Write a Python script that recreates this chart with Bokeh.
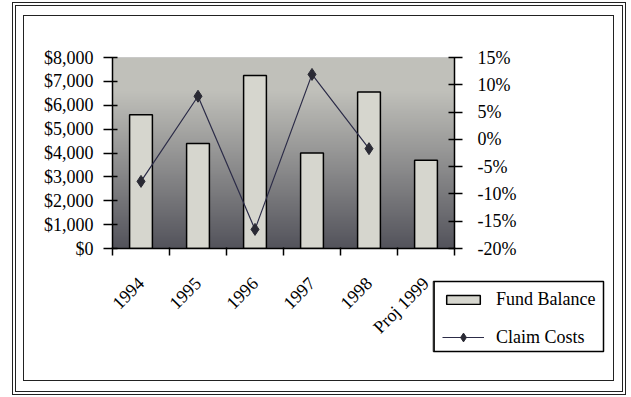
import numpy as np
from bokeh.plotting import figure
from bokeh.layouts import column
from bokeh.models import (Range1d, LinearAxis, FixedTicker, NumeralTickFormatter,
                          PrintfTickFormatter, Legend, LegendItem, InlineStyleSheet)
from bokeh.embed import file_html
from bokeh.resources import INLINE

# --- data -------------------------------------------------------------
years = ["1994", "1995", "1996", "1997", "1998", "Proj 1999"]
fund_balance = [5600, 4400, 7250, 4000, 6550, 3700]          # dollars
claim_costs = [-7.7, 7.9, -16.5, 11.9, -1.7]                  # percent change, 1994-1998
balance_ticks = [0, 1000, 2000, 3000, 4000, 5000, 6000, 7000, 8000]
pct_ticks = [-20, -15, -10, -5, 0, 5, 10, 15]

FONT = "Liberation Serif"
FS = "18px"
BAR_FILL = "#d6d6ce"
LINE_COLOR = "#2c2c48"
MARK_COLOR = "#2a2a34"

xs = list(range(len(years)))
cx = xs[:len(claim_costs)]

p = figure(width=631, height=397, output_backend="svg", toolbar_location=None,
           x_range=Range1d(-0.5, len(years) - 0.5),
           y_range=Range1d(balance_ticks[0], balance_ticks[-1]),
           x_axis_location=None, y_axis_location=None,
           min_border_left=112, min_border_right=177,
           min_border_top=57, min_border_bottom=149)
p.frame_align = False
p.background_fill_color = "white"
p.border_fill_alpha = 0
p.outline_line_color = "#9a9a9a"
p.outline_line_dash = "1 1"
p.xgrid.visible = False
p.ygrid.visible = False
p.extra_y_ranges = {"pct": Range1d(pct_ticks[0], pct_ticks[-1])}

# double outer border and single inner border around the whole chart
p.stylesheets = [InlineStyleSheet(css="""
:host { background: white; }
:host::before {
  content: ""; position: absolute; left: 12px; top: 2px; width: 614px; height: 393px;
  box-sizing: border-box; border: 1.5px solid #222; outline: 1.5px solid #222;
  outline-offset: -4.5px; pointer-events: none; z-index: 5;
}
:host::after {
  content: ""; position: absolute; left: 23px; top: 15px; width: 591px; height: 366px;
  box-sizing: border-box; border: 1.5px solid #222; pointer-events: none; z-index: 5;
}
""")]

# shaded plot background: light band on top, darkening towards the bottom
n = 200
t = np.linspace(0.0, 1.0, n)            # 0 = bottom, 1 = top
light = np.array([192, 192, 186])
dark = np.array([84, 84, 92])
rows = np.zeros((n, 3))
for i, v in enumerate(t):
    k = min(v / 0.82, 1.0)
    rows[i] = dark + (light - dark) * k
img = np.zeros((n, 1), dtype=np.uint32)
view = img.view(dtype=np.uint8).reshape((n, 1, 4))
view[:, 0, 0] = rows[:, 0]
view[:, 0, 1] = rows[:, 1]
view[:, 0, 2] = rows[:, 2]
view[:, 0, 3] = 255
p.image_rgba(image=[img], x=-0.5, y=balance_ticks[0], dw=len(years),
             dh=balance_ticks[-1] - balance_ticks[0], level="image")

# bars: fund balance
p.vbar(x=xs, top=fund_balance, width=0.4, bottom=0,
       fill_color=BAR_FILL, line_color="black", line_width=1.5)

# line: claim costs on the right-hand axis
p.line(cx, claim_costs, y_range_name="pct", line_color=LINE_COLOR, line_width=1.2)
p.scatter(cx, claim_costs, y_range_name="pct", marker="diamond", size=12,
          fill_color=MARK_COLOR, line_color=MARK_COLOR)

# axes
def style(ax):
    ax.major_label_text_font = FONT
    ax.major_label_text_font_size = FS
    ax.major_label_text_color = "black"
    ax.axis_line_color = "black"
    ax.axis_line_width = 1.5
    ax.major_tick_line_color = "black"
    ax.major_tick_line_width = 1.5
    ax.minor_tick_line_color = None

left = LinearAxis(ticker=FixedTicker(ticks=balance_ticks),
                  formatter=NumeralTickFormatter(format="$0,0"))
style(left)
left.major_tick_in = 5
left.major_tick_out = 9
left.major_label_standoff = 10
p.add_layout(left, "left")

right = LinearAxis(y_range_name="pct", ticker=FixedTicker(ticks=pct_ticks),
                   formatter=PrintfTickFormatter(format="%d%%"))
style(right)
right.major_tick_in = 6
right.major_tick_out = 8
right.major_label_standoff = 15
p.add_layout(right, "right")

bottom = LinearAxis(ticker=FixedTicker(ticks=xs, minor_ticks=[x - 0.5 for x in xs] + [xs[-1] + 0.5]),
                    major_label_overrides={x: y for x, y in zip(xs, years)})
style(bottom)
bottom.major_tick_in = 0
bottom.major_tick_out = 0
bottom.minor_tick_line_color = "black"
bottom.minor_tick_line_width = 1.5
bottom.minor_tick_in = 1
bottom.minor_tick_out = 7
bottom.major_label_orientation = np.pi / 4
bottom.major_label_standoff = 25
p.add_layout(bottom, "below")

# transparent overlay carrying the boxed legend; its frame is the legend box
q = figure(width=631, height=397, output_backend="svg", toolbar_location=None,
           x_range=Range1d(100, 101), y_range=Range1d(100, 101),
           x_axis_location=None, y_axis_location=None,
           min_border_left=433, min_border_right=28,
           min_border_top=281, min_border_bottom=46)
q.frame_align = False
q.background_fill_color = "white"
q.border_fill_alpha = 0
q.outline_line_color = "black"
q.outline_line_width = 1.5
q.xgrid.visible = False
q.ygrid.visible = False
q.stylesheets = [InlineStyleSheet(css="""
:host { position: absolute !important; left: 0px !important; top: 0px !important;
        z-index: 10; background: transparent !important; pointer-events: none; }
""")]
# same series as above, outside the overlay's ranges: they only supply legend swatches
qb = q.vbar(x=xs, top=fund_balance, width=0.4, bottom=0, fill_color=BAR_FILL,
            line_color="black", line_width=1.5)
ql = q.line(cx, claim_costs, line_color=LINE_COLOR, line_width=1.2)
qm = q.scatter(cx, claim_costs, marker="diamond", size=12,
               fill_color=MARK_COLOR, line_color=MARK_COLOR)

common = dict(label_text_font=FONT, label_text_font_size="18px", label_text_color="black",
              padding=0, margin=0, spacing=0, label_standoff=12, glyph_width=42,
              border_line_color=None, background_fill_alpha=0)
q.add_layout(Legend(items=[LegendItem(label="Fund Balance", renderers=[qb])],
                    location=(9, 41), glyph_height=11, **common), "center")
q.add_layout(Legend(items=[LegendItem(label="Claim Costs", renderers=[ql, qm])],
                    location=(9, 3), glyph_height=22, **common), "center")

open("out.html", "w").write(file_html(column(p, q), INLINE))
